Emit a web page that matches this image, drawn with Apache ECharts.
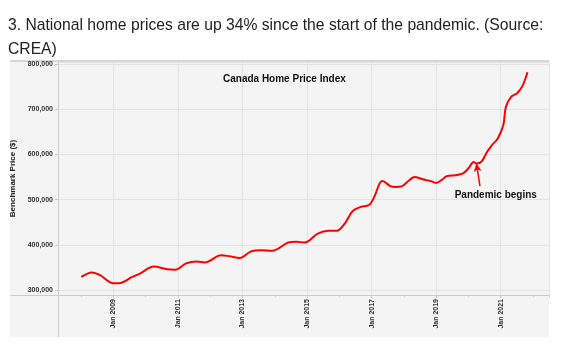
<!DOCTYPE html>
<html>
<head>
<meta charset="utf-8">
<script src="https://cdn.jsdelivr.net/npm/echarts@6/dist/echarts.min.js"></script>
<style>
  html, body { margin: 0; padding: 0; background: #ffffff; }
  #chart { width: 564px; height: 364px; }
</style>
</head>
<body>
<div id="chart"></div>
<script>
// ---- data ----
const dates = [
  '2008-01','2008-05','2008-08','2009-01','2009-03','2009-08','2009-11',
  '2010-04','2010-09','2010-12','2011-04','2011-08','2011-11',
  '2012-05','2012-08','2012-12','2013-04','2013-08','2013-12',
  '2014-06','2014-09','2014-12','2015-05','2015-09','2015-12',
  '2016-03','2016-06','2016-09','2016-12','2017-02','2017-04','2017-05',
  '2017-08','2017-10','2017-12','2018-03','2018-05','2018-08','2018-11',
  '2019-01','2019-03','2019-05','2019-08','2019-11','2020-01','2020-03',
  '2020-04','2020-06','2020-08','2020-10','2020-12','2021-02','2021-03',
  '2021-05','2021-07','2021-09','2021-11'
];
const prices = [
  329000,339000,333000,315000,315000,329000,337000,
  352000,346000,345000,359000,363000,361000,
  377000,375000,371000,385000,388000,387000,
  405000,407000,405000,425000,431000,431000,
  447000,475000,484000,488000,506000,536000,541000,
  530000,528000,529000,543000,550000,545000,541000,
  537000,543000,552000,554000,558000,569000,583000,
  580000,585000,606000,622000,636000,665000,706000,
  728000,735000,750000,782000
];
const xLabelYears = [2009, 2011, 2013, 2015, 2017, 2019, 2021];
const yTicks = [300000, 400000, 500000, 600000, 700000, 800000];
const annotationText = 'Pandemic begins';
const annotationArrow = [[2020.36, 530000], [2020.25, 580000]]; // [decimal year, price]
const annotationLabelAt = [2020.85, 510000];
const heading = '3. National home prices are up 34% since the start of the pandemic. (Source:\nCREA)';
const chartTitle = 'Canada Home Price Index';
const yName = 'Benchmark Price ($)';

// x is measured in years after 2001 so that the 2-year label step falls on odd years
const BASE = 2001;
const toX = d => { const [y, m] = d.split('-').map(Number); return y - BASE + (m - 1) / 12; };
const seriesData = dates.map((d, i) => [toX(d), prices[i]]);

const FONT = '"Liberation Sans", Arial, Helvetica, sans-serif';
const chart = echarts.init(document.getElementById('chart'), null, { renderer: 'canvas' });

chart.setOption({
  animation: false,
  backgroundColor: '#ffffff',
  textStyle: { fontFamily: FONT },
  title: [
    { text: heading, left: 3, top: 9,
      textStyle: { fontFamily: FONT, fontSize: 15.7, fontWeight: 'normal', color: '#222', lineHeight: 24 } },
    { text: chartTitle, left: 218, top: 69,
      textStyle: { fontFamily: FONT, fontSize: 10, fontWeight: 'bold', color: '#111' } }
  ],
  graphic: { elements: [
    { type: 'rect', z: -10, shape: { x: 10, y: 61, width: 539, height: 276 }, style: { fill: '#f4f4f4' } },
    { type: 'line', z: -9, shape: { x1: 10, y1: 61, x2: 549, y2: 61 }, style: { stroke: '#d6d6d6', lineWidth: 2 } },
    { type: 'line', z: 5, shape: { x1: 58.5, y1: 295, x2: 58.5, y2: 337 }, style: { stroke: '#cccccc', lineWidth: 1 } },
    { type: 'line', z: 5, shape: { x1: 10, y1: 295.5, x2: 58, y2: 295.5 }, style: { stroke: '#cccccc', lineWidth: 1 } }
  ]},
  grid: { left: 58, right: 15, top: 62, bottom: 69, containLabel: false },
  xAxis: {
    type: 'value',
    min: 6.28, max: 21.5,
    splitNumber: 7,
    axisLine: { show: true, lineStyle: { color: '#cccccc', width: 1 } },
    axisTick: { show: true, length: 3, lineStyle: { color: '#cccccc' } },
    minorTick: { show: true, splitNumber: 2, length: 2, lineStyle: { color: '#cccccc' } },
    splitLine: { show: true, lineStyle: { color: '#e3e3e3', width: 1 } },
    axisLabel: {
      rotate: 90, margin: 4, fontSize: 7, fontWeight: 'bold', color: '#333', fontFamily: FONT,
      showMinLabel: false, showMaxLabel: false,
      formatter: v => {
        const yr = Math.round(v) + BASE;
        return (Math.abs(v - Math.round(v)) < 1e-6 && xLabelYears.includes(yr)) ? 'Jan ' + yr : '';
      }
    }
  },
  yAxis: {
    type: 'value',
    min: 289000, max: 804500,
    splitNumber: 5,
    name: yName,
    nameLocation: 'middle',
    nameRotate: 90,
    nameGap: 36,
    nameTextStyle: { fontFamily: FONT, fontSize: 8, fontWeight: 'bold', color: '#222' },
    axisLine: { show: true, lineStyle: { color: '#cccccc', width: 1 } },
    axisTick: { show: true, length: 3, lineStyle: { color: '#cccccc' } },
    splitLine: { show: true, lineStyle: { color: '#e3e3e3', width: 1 } },
    axisLabel: {
      margin: 5, fontSize: 7, fontWeight: 'bold', color: '#333', fontFamily: FONT,
      showMinLabel: false, showMaxLabel: false,
      formatter: v => yTicks.includes(v) ? v.toLocaleString('en-US') : ''
    }
  },
  series: [{
    type: 'line',
    data: seriesData,
    smooth: 0.35,
    showSymbol: false,
    lineStyle: { color: '#ff0000', width: 2 },
    itemStyle: { color: '#ff0000' },
    z: 3,
    markLine: {
      silent: true,
      symbol: ['none', 'arrow'],
      symbolSize: [6, 8],
      label: { show: false },
      lineStyle: { color: '#ff0000', width: 1.5, type: 'solid' },
      data: [[
        { coord: [annotationArrow[0][0] - BASE, annotationArrow[0][1]] },
        { coord: [annotationArrow[1][0] - BASE, annotationArrow[1][1]] }
      ]]
    },
    markPoint: {
      silent: true,
      data: [{
        coord: [annotationLabelAt[0] - BASE, annotationLabelAt[1]],
        symbol: 'circle', symbolSize: 0,
        label: { show: true, position: 'inside', formatter: annotationText,
          fontFamily: FONT, fontSize: 10, fontWeight: 'bold', color: '#111' }
      }]
    }
  }]
});
</script>
</body>
</html>
